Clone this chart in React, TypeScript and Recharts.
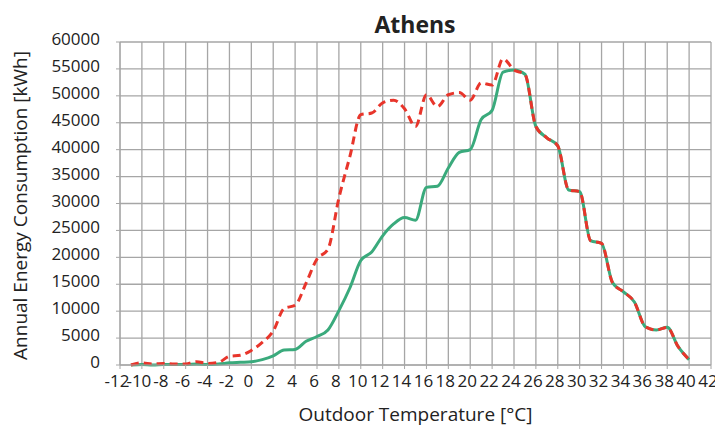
import {
  LineChart,
  Line,
  XAxis,
  YAxis,
  CartesianGrid,
} from "recharts";

const temps = [
  -11, -10, -9, -8, -7, -6, -5, -4, -3, -2, -1, 0, 1, 2, 3, 4, 5, 6, 7, 8, 9,
  10, 11, 12, 13, 14, 15, 16, 17, 18, 19, 20, 21, 22, 23, 24, 25, 26, 27, 28,
  29, 30, 31, 32, 33, 34, 35, 36, 37, 38, 39, 40,
];

// red dashed series
const dashedSeries = [
  0, 400, 200, 300, 200, 200, 600, 300, 500, 1600, 1800, 2700, 4200, 6300,
  10500, 11100, 15200, 19700, 21500, 31000, 38700, 46500, 46800, 48700, 49200,
  47600, 44300, 50200, 48000, 50200, 50600, 49200, 52400, 52000, 56900, 54800,
  54000, 44300, 42200, 40700, 32500, 32200, 23100, 22600, 15300, 13600, 11700,
  7100, 6500, 7000, 3400, 1000,
];

// green solid series
const solidSeries = [
  0, 100, 0, 100, 100, 100, 200, 100, 200, 400, 500, 600, 1000, 1700, 2800,
  2900, 4400, 5300, 6500, 10100, 14300, 19400, 21000, 24000, 26200, 27400,
  26900, 33000, 33200, 36600, 39500, 40000, 45600, 47300, 54400, 54800, 54000,
  44300, 42200, 40700, 32500, 32200, 23100, 22600, 15300, 13600, 11700, 7100,
  6500, 7000, 3400, 1000,
];

const xTicks = [
  -12, -10, -8, -6, -4, -2, 0, 2, 4, 6, 8, 10, 12, 14, 16, 18, 20, 22, 24, 26,
  28, 30, 32, 34, 36, 38, 40, 42,
];
const yTicks = [
  0, 5000, 10000, 15000, 20000, 25000, 30000, 35000, 40000, 45000, 50000,
  55000, 60000,
];

const data = temps.map((t, i) => ({
  t,
  dashed: dashedSeries[i],
  solid: solidSeries[i],
}));

const font = "'Open Sans', sans-serif";
const gray = "#a6a6a6";

export default function App() {
  return (
    <div style={{ position: "absolute", left: 0, top: 0, width: 715, height: 427, background: "#fff" }}>
      <div
        style={{
          position: "absolute",
          left: 0,
          width: 830,
          top: 9,
          textAlign: "center",
          fontFamily: font,
          fontWeight: 700,
          fontSize: 23,
          lineHeight: "30px",
          color: "#222",
        }}
      >
        Athens
      </div>
      <LineChart
        width={715}
        height={427}
        data={data}
        margin={{ top: 42, right: 4, left: 0, bottom: 0 }}
      >
        <CartesianGrid stroke={gray} strokeWidth={1.3} horizontalValues={yTicks} verticalValues={xTicks} />
        <XAxis
          dataKey="t"
          type="number"
          domain={[-12, 42]}
          ticks={xTicks}
          interval={0}
          height={62}
          stroke={gray}
          tickSize={4}
          tickMargin={6}
          tick={{ fill: "#222", fontSize: 17, fontFamily: font, dx: -3 }}
          label={{
            value: "Outdoor Temperature [°C]",
            position: "insideBottom",
            offset: 6,
            fill: "#222",
            fontSize: 19,
            fontFamily: font,
          }}
        />
        <YAxis
          type="number"
          domain={[0, 60000]}
          ticks={yTicks}
          interval={0}
          width={120}
          stroke={gray}
          tickSize={4}
          tickMargin={16}
          tick={{ fill: "#222", fontSize: 17, fontFamily: font, dy: -3 }}
          label={{
            value: "Annual Energy Consumption [kWh]",
            angle: -90,
            position: "insideLeft",
            offset: 20,
            dy: 2,
            style: { textAnchor: "middle" },
            fill: "#222",
            fontSize: 19,
            fontFamily: font,
          }}
        />
        <Line
          type="monotone"
          dataKey="solid"
          stroke="#3aaa7c"
          strokeWidth={3}
          dot={false}
          isAnimationActive={false}
        />
        <Line
          type="monotone"
          dataKey="dashed"
          stroke="#e8352b"
          strokeWidth={3}
          strokeDasharray="8 5"
          dot={false}
          isAnimationActive={false}
        />
      </LineChart>
    </div>
  );
}
